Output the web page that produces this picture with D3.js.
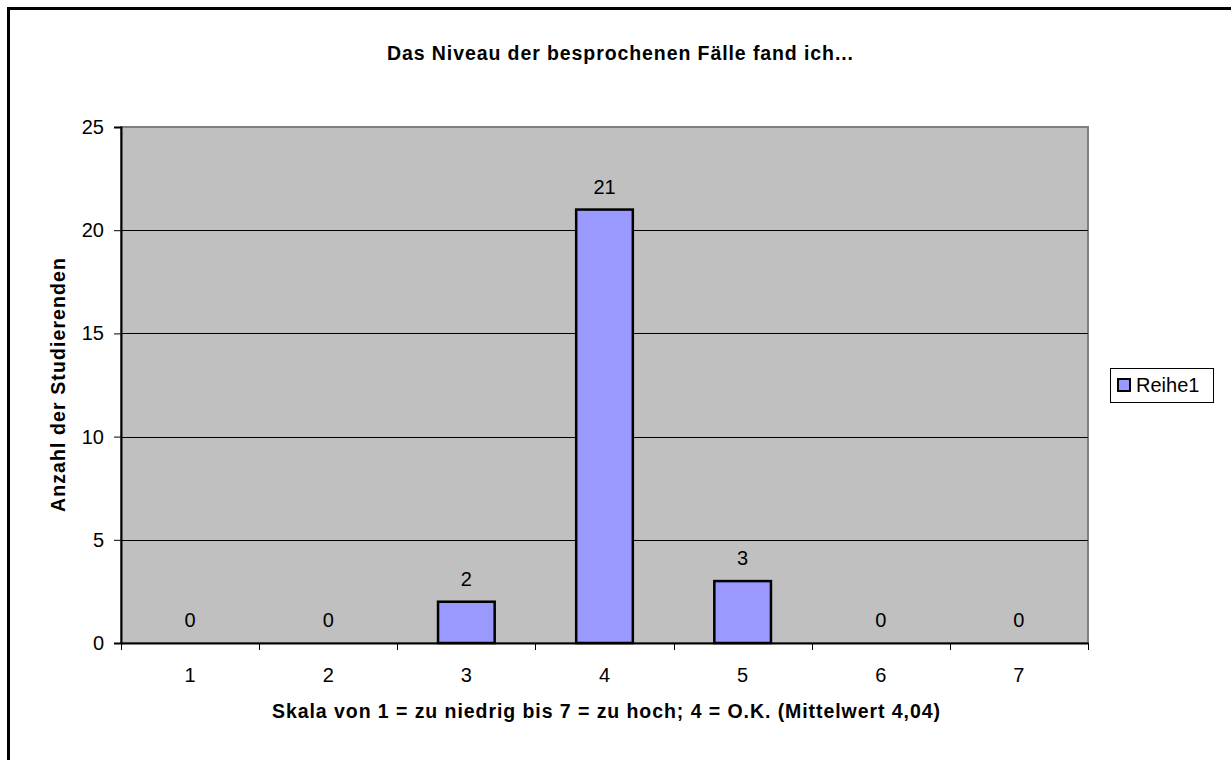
<!DOCTYPE html>
<html>
<head>
<meta charset="utf-8">
<title>Das Niveau der besprochenen Fälle</title>
<script src="https://cdn.jsdelivr.net/npm/d3@7/dist/d3.min.js"></script>
<style>
  body { margin: 0; background: #fff; overflow: hidden; }
  text { font-family: "Liberation Sans", Arial, sans-serif; fill: #000; }
</style>
</head>
<body>
<svg id="chart" width="1231" height="760"></svg>
<script>
// data
const categories = ["1", "2", "3", "4", "5", "6", "7"];
const values = [0, 0, 2, 21, 3, 0, 0];
const yTicks = [0, 5, 10, 15, 20, 25];
const seriesName = "Reihe1";
const title = "Das Niveau der besprochenen Fälle fand ich...";
const xTitle = "Skala von 1 = zu niedrig bis 7 = zu hoch; 4 = O.K. (Mittelwert 4,04)";
const yTitle = "Anzahl der Studierenden";

const svg = d3.select("#chart");
const margin = {left: 121, top: 127, right: 1088, bottom: 643};
const FONT = "Liberation Sans, Arial, sans-serif";

// outer frame (right and bottom edges fall outside the picture)
svg.append("rect")
  .attr("x", 8.5).attr("y", 8.5)
  .attr("width", 1300).attr("height", 800)
  .attr("fill", "none").attr("stroke", "#000").attr("stroke-width", 3);

const x = d3.scaleBand().domain(categories).range([margin.left, margin.right]).padding(0);
const y = d3.scaleLinear().domain([0, 25]).range([margin.bottom, margin.top]);

// plot area
svg.append("rect")
  .attr("x", margin.left).attr("y", margin.top)
  .attr("width", margin.right - margin.left).attr("height", margin.bottom - margin.top)
  .attr("fill", "#c0c0c0").attr("stroke", "#808080").attr("stroke-width", 2);

// gridlines
svg.append("g").selectAll("line")
  .data(yTicks.filter(d => d > 0 && d < 25))
  .join("line")
  .attr("x1", margin.left).attr("x2", margin.right)
  .attr("y1", d => Math.round(y(d)) + 0.5).attr("y2", d => Math.round(y(d)) + 0.5)
  .attr("stroke", "#000").attr("stroke-width", 1);

const rows = values.map((v, i) => ({cat: categories[i], v: v}));

// bars
const barW = x.bandwidth() * 0.41;
svg.append("g").selectAll("rect")
  .data(rows.filter(d => d.v > 0))
  .join("rect")
  .attr("x", d => x(d.cat) + (x.bandwidth() - barW) / 2)
  .attr("y", d => y(d.v))
  .attr("width", barW)
  .attr("height", d => y(0) - y(d.v))
  .attr("fill", "#9999ff").attr("stroke", "#000").attr("stroke-width", 2.5);

// value labels
svg.append("g").selectAll("text")
  .data(rows)
  .join("text")
  .attr("x", d => x(d.cat) + x.bandwidth() / 2)
  .attr("y", d => y(d.v) - 16)
  .attr("text-anchor", "middle")
  .attr("font-size", 20)
  .text(d => d.v);

// y axis
const yAxis = svg.append("g")
  .attr("transform", `translate(${margin.left},0)`)
  .call(d3.axisLeft(y).tickValues(yTicks).tickSize(7).tickPadding(10));
yAxis.select(".domain").attr("stroke", "#000").attr("stroke-width", 2);
yAxis.selectAll(".tick line").attr("stroke", "#000");
yAxis.selectAll("text").attr("font-size", 20).attr("font-family", FONT);

// x axis
const xAxis = svg.append("g")
  .attr("transform", `translate(0,${margin.bottom})`)
  .call(d3.axisBottom(x).tickSize(0).tickPadding(25));
xAxis.select(".domain").attr("stroke", "#000").attr("stroke-width", 2);
xAxis.selectAll("text").attr("font-size", 20).attr("font-family", FONT);
// tick marks sit between categories
xAxis.selectAll(".sep")
  .data(d3.range(categories.length + 1))
  .join("line")
  .attr("x1", i => Math.round(margin.left + x.step() * i) + 0.5)
  .attr("x2", i => Math.round(margin.left + x.step() * i) + 0.5)
  .attr("y1", 0).attr("y2", 7)
  .attr("stroke", "#000");

// titles
svg.append("text")
  .attr("x", 620).attr("y", 60)
  .attr("text-anchor", "middle").attr("font-size", 19.5).attr("font-weight", "bold")
  .attr("textLength", 466).attr("lengthAdjust", "spacing")
  .text(title);
svg.append("text")
  .attr("x", 606).attr("y", 718)
  .attr("text-anchor", "middle").attr("font-size", 19.5).attr("font-weight", "bold")
  .attr("textLength", 668).attr("lengthAdjust", "spacing")
  .text(xTitle);
svg.append("text")
  .attr("transform", `translate(65,${(margin.top + margin.bottom) / 2}) rotate(-90)`)
  .attr("text-anchor", "middle").attr("font-size", 19.5).attr("font-weight", "bold")
  .attr("textLength", 254).attr("lengthAdjust", "spacing")
  .text(yTitle);

// legend
const lg = svg.append("g").attr("transform", "translate(1110,368)");
lg.append("rect").attr("x", 0.5).attr("y", 0.5).attr("width", 103).attr("height", 34)
  .attr("fill", "#fff").attr("stroke", "#000");
lg.append("rect").attr("x", 8).attr("y", 11).attr("width", 12).attr("height", 12)
  .attr("fill", "#9999ff").attr("stroke", "#000").attr("stroke-width", 2);
lg.append("text").attr("x", 26).attr("y", 24).attr("font-size", 20).text(seriesName);
</script>
</body>
</html>
